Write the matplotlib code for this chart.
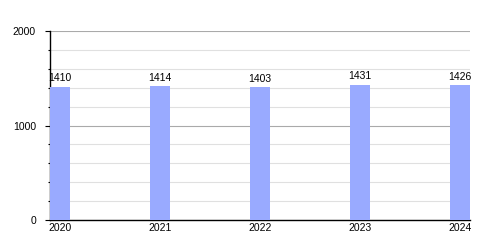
import matplotlib
matplotlib.use("Agg")
import matplotlib.pyplot as plt
from matplotlib.ticker import MultipleLocator

years = ["2020", "2021", "2022", "2023", "2024"]
values = [1410, 1414, 1403, 1431, 1426]

plt.rcParams['font.family'] = ['Liberation Sans', 'DejaVu Sans']

fig = plt.figure(figsize=(5, 2.5), dpi=100)
ax = fig.add_axes([0.1, 0.12, 0.84, 0.756])

pos = list(range(len(years)))
ax.bar(pos, values, width=0.2, align='edge', color='#99aaff', zorder=3)
for x, v in zip(pos, values):
    ax.text(x + 0.1, v + 35, str(v), ha='center', va='bottom', fontsize=7.5, zorder=4)

ax.set_xlim(0, 4.2)
ax.set_ylim(0, 2000)
ax.set_xticks([p + 0.1 for p in pos])
ax.set_xticklabels(years, fontsize=7.5)
ax.tick_params(axis='x', length=0, pad=2)

ax.yaxis.set_major_locator(MultipleLocator(1000))
ax.yaxis.set_minor_locator(MultipleLocator(200))
ax.tick_params(axis='y', which='major', length=3.6, width=0.8, labelsize=7.5, pad=6.5)
ax.tick_params(axis='y', which='minor', length=1.8, width=0.8)
ax.grid(axis='y', which='major', color='#aaaaaa', linewidth=0.8, zorder=0)
ax.grid(axis='y', which='minor', color='#e0e0e0', linewidth=0.8, zorder=0)

ax.spines['right'].set_visible(False)
ax.spines['top'].set_visible(False)
ax.spines['left'].set_linewidth(1)
ax.spines['bottom'].set_linewidth(1)

fig.savefig("out.png", dpi=100)
